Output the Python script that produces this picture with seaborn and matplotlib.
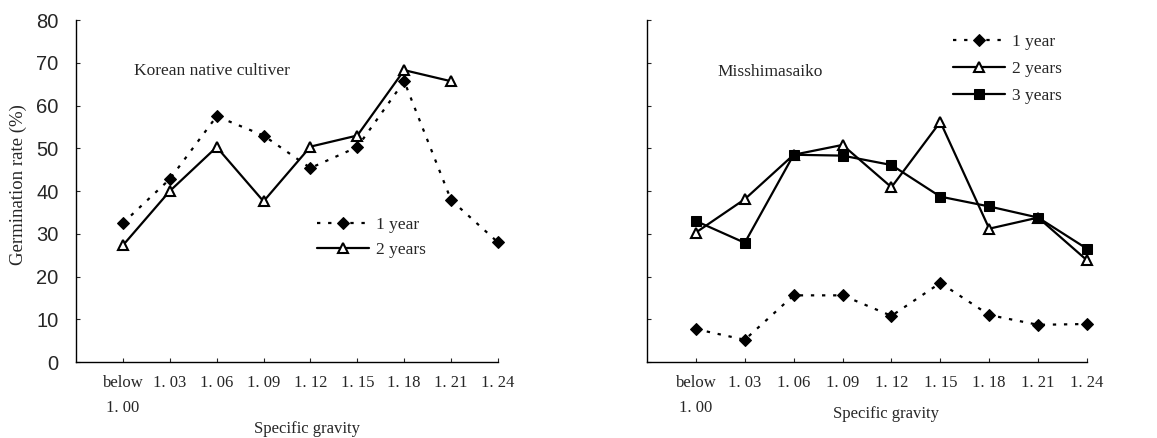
import numpy as np
import pandas as pd
import matplotlib
matplotlib.use("Agg")
import matplotlib.pyplot as plt
import seaborn as sns

# Data
categories = ["below\n1. 00", "1. 03", "1. 06", "1. 09", "1. 12", "1. 15", "1. 18", "1. 21", "1. 24"]

korean_1yr = [32.5, 42.8, 57.5, 53.0, 45.4, 50.3, 65.7, 37.9, 28.0]
korean_2yr = [27.3, 40.0, 50.3, 37.6, 50.4, 53.0, 68.3, 65.7, np.nan]

missh_1yr = [7.7, 5.2, 15.6, 15.6, 10.8, 18.5, 11.0, 8.7, 8.9]
missh_2yr = [30.3, 38.1, 48.5, 50.8, 40.9, 56.2, 31.2, 33.8, 23.8]
missh_3yr = [33.0, 27.9, 48.5, 48.3, 46.1, 38.7, 36.4, 33.8, 26.5]

yticks = [0, 10, 20, 30, 40, 50, 60, 70, 80]

sns.set_style("ticks")
plt.rcParams["font.family"] = ["Liberation Serif", "DejaVu Serif"]

SERIF = "Liberation Serif"
SANS = "Liberation Sans"

fig = plt.figure(figsize=(11.57, 4.38), dpi=100)
ax1 = fig.add_axes([0.0657, 0.1735, 0.3647, 0.7805])
ax2 = fig.add_axes([0.5592, 0.1735, 0.3803, 0.7805])

x = np.arange(len(categories))

styles = {
    "1 year": dict(linestyle=(0, (1.5, 3.5)), marker="D", markersize=6.5,
                   markerfacecolor="black", markeredgecolor="black"),
    "2 years": dict(linestyle="-", marker="^", markersize=7.5,
                    markerfacecolor="white", markeredgecolor="black", markeredgewidth=1.5),
    "3 years": dict(linestyle="-", marker="s", markersize=7,
                    markerfacecolor="black", markeredgecolor="black"),
}


def draw(ax, series):
    for name, vals in series:
        df = pd.DataFrame({"x": x, "y": vals}).dropna()
        sns.lineplot(data=df, x="x", y="y", ax=ax, color="black", linewidth=1.6,
                     label=name, clip_on=False, **styles[name])


draw(ax1, [("1 year", korean_1yr), ("2 years", korean_2yr)])
draw(ax2, [("1 year", missh_1yr), ("2 years", missh_2yr), ("3 years", missh_3yr)])

for ax in (ax1, ax2):
    ax.set_xlim(-1, 8)
    ax.set_ylim(0, 80)
    ax.set_xticks(x)
    ax.set_xticklabels(categories, fontfamily=SERIF, fontsize=12, linespacing=1.8)
    ax.set_yticks(yticks)
    ax.tick_params(direction="in", length=3, width=0.8)
    ax.tick_params(axis="x", pad=9)
    ax.tick_params(axis="y", pad=12.5)
    sns.despine(ax=ax)
    for s in ("left", "bottom"):
        ax.spines[s].set_linewidth(1.0)
        ax.spines[s].set_color("black")
    ax.set_xlabel("Specific gravity", fontfamily=SERIF, fontsize=12)
    ax.set_ylabel("")

ax1.set_yticklabels([str(v) for v in yticks], fontfamily=SANS, fontsize=14.5)
ax2.set_yticklabels([])
ax1.set_ylabel("Germination rate (%)", fontfamily=SERIF, fontsize=13.5)
ax1.yaxis.set_label_coords(-0.115, 0.52)
ax1.xaxis.set_label_coords(0.547, -0.172)
ax2.xaxis.set_label_coords(0.543, -0.128)

ax1.text(0.23, 68.2, "Korean native cultiver", fontfamily=SERIF, fontsize=12.5, va="center")
ax2.text(0.44, 67.8, "Misshimasaiko", fontfamily=SERIF, fontsize=12.5, va="center")

ax1.legend(loc="upper left", bbox_to_anchor=(0.535, 0.47), frameon=False,
           handlelength=3.0, handletextpad=0.4, labelspacing=0.5,
           prop={"family": SERIF, "size": 12.5})
ax2.legend(loc="upper left", bbox_to_anchor=(0.66, 1.005), frameon=False,
           handlelength=3.0, handletextpad=0.4, labelspacing=0.62,
           prop={"family": SERIF, "size": 12.5})

fig.savefig("out.png", dpi=100)
